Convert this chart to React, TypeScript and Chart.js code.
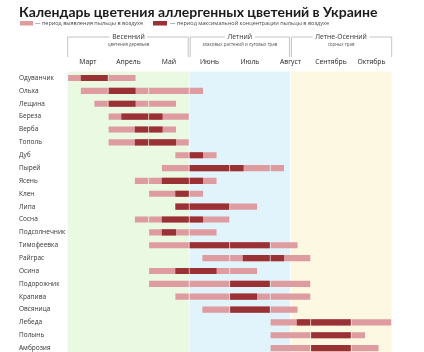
import React, { useEffect, useRef } from "react";
import { Chart, registerables } from "chart.js";

Chart.register(...registerables);

const titleText = "Календарь цветения аллергенных цветений в Украине";
const legendLight = "— период выявления пыльцы в воздухе";
const legendDark = "— период максимальной концентрации пыльцы в воздухе";

const months = ["Март", "Апрель", "Май", "Июнь", "Июль", "Август", "Сентябрь", "Октябрь"];

// seasons in decades (3 per month, March = 0)
const seasonNames = ["Весенний", "Летний", "Летне-Осенний"];
const seasonSubs = ["цветения деревьев", "злаковых растений и луговых трав", "сорных трав"];
const seasonStart = [0, 9, 16.5];
const seasonEnd = [9, 16.5, 24];
const seasonColors = ["#E9F9E2", "#E1F3FB", "#FCF8E1"];

const plants = [
  "Одуванчик", "Ольха", "Лещина", "Береза", "Верба", "Тополь", "Дуб", "Пырей",
  "Ясень", "Клен", "Липа", "Сосна", "Подсолнечник", "Тимофеевка", "Райграс",
  "Осина", "Подорожник", "Крапива", "Овсяница", "Лебеда", "Полынь", "Амброзия",
];
// detection period (decades from start of March)
const detectStart = [0, 1, 2, 3, 3, 3, 8, 7, 5, 6, 8, 5, 6, 6, 10, 6, 6, 8, 10, 15, 15, 15];
const detectEnd = [5, 10, 8, 9, 8, 9, 11, 16, 11, 10, 14, 12, 11, 17, 18, 14, 18, 18, 17, 24, 22, 23];
// peak concentration period
const peakStart = [1, 3, 3, 4, 5, 5, 9, 9, 7, 8, 8, 7, 7, 9, 13, 8, 12, 12, 12, 17, 18, 18];
const peakEnd = [3, 5, 5, 7, 7, 8, 10, 13, 10, 9, 12, 10, 8, 15, 16, 11, 15, 14, 15, 21, 21, 21];

const GAP = 0.055;

function splitByMonth(starts: number[], ends: number[]) {
  const out: { x: [number, number]; y: number }[] = [];
  starts.forEach((s, i) => {
    const e = ends[i];
    for (let m = Math.floor(s / 3); m * 3 < e; m++) {
      const a = Math.max(s, m * 3);
      const b = Math.min(e, m * 3 + 3);
      const a2 = a === m * 3 ? a + GAP : a;
      const b2 = b === m * 3 + 3 ? b - GAP : b;
      out.push({ x: [a2, b2], y: i });
    }
  });
  return out;
}

const decor = {
  id: "decor",
  beforeDatasetsDraw(chart: any) {
    const { ctx, chartArea, scales } = chart;
    const xs = scales.x;
    ctx.save();
    seasonStart.forEach((s, i) => {
      const x0 = xs.getPixelForValue(s) + (i > 0 ? 0.4 : 0);
      const x1 = xs.getPixelForValue(seasonEnd[i]) - (i < seasonStart.length - 1 ? 0.4 : 0);
      ctx.fillStyle = seasonColors[i];
      ctx.fillRect(x0, chartArea.top, x1 - x0, chartArea.bottom - chartArea.top);
    });
    ctx.restore();
  },
  afterDraw(chart: any) {
    const { ctx, scales } = chart;
    const xs = scales.x;
    const ys = scales.y;
    ctx.save();
    // title
    ctx.fillStyle = "#1b1b1b";
    ctx.textBaseline = "alphabetic";
    ctx.textAlign = "left";
    ctx.font = "bold 14px Lato, sans-serif";
    ctx.fillText(titleText, 19, 16.5, 359);
    // legend
    ctx.fillStyle = "#DE9BA0";
    ctx.fillRect(20, 21, 13, 4.5);
    ctx.fillStyle = "#9A3135";
    ctx.fillRect(153, 21, 14, 4.5);
    ctx.fillStyle = "#444";
    ctx.font = "5.8px 'Open Sans', sans-serif";
    ctx.textBaseline = "middle";
    ctx.fillText(legendLight, 35, 23.3, 108);
    ctx.fillText(legendDark, 170, 23.3, 159);
    // season brackets
    seasonNames.forEach((name, i) => {
      const x0 = xs.getPixelForValue(seasonStart[i]) + (i > 0 ? 1 : 0);
      const x1 = xs.getPixelForValue(seasonEnd[i]) - (i < seasonNames.length - 1 ? 1 : 0);
      const cx = (xs.getPixelForValue(seasonStart[i]) + xs.getPixelForValue(seasonEnd[i])) / 2;
      ctx.font = "6.8px 'Open Sans', sans-serif";
      const w = ctx.measureText(name).width;
      ctx.strokeStyle = "#b5b5b5";
      ctx.lineWidth = 0.8;
      const ly = 37;
      ctx.beginPath();
      ctx.moveTo(x0, 57);
      ctx.lineTo(x0, ly);
      ctx.lineTo(cx - w / 2 - 2.5, ly);
      ctx.moveTo(cx + w / 2 + 2.5, ly);
      ctx.lineTo(x1, ly);
      ctx.lineTo(x1, 57);
      ctx.stroke();
      ctx.fillStyle = "#333";
      ctx.textAlign = "center";
      ctx.textBaseline = "middle";
      ctx.fillText(name, cx, ly);
      ctx.font = "4.4px 'Open Sans', sans-serif";
      ctx.fillStyle = "#555";
      ctx.fillText(seasonSubs[i], cx, 44.5);
    });
    // month labels
    ctx.font = "6.8px 'Open Sans', sans-serif";
    ctx.fillStyle = "#222";
    ctx.textAlign = "center";
    months.forEach((m, i) => {
      ctx.fillText(m, xs.getPixelForValue(i * 3 + 1.5), 62);
    });
    // plant labels
    ctx.textAlign = "left";
    ctx.font = "6.5px 'Open Sans', sans-serif";
    ctx.fillStyle = "#333";
    plants.forEach((p, i) => {
      ctx.fillText(p, 19, ys.getPixelForValue(i));
    });
    ctx.restore();
  },
};

export default function App() {
  const ref = useRef<HTMLCanvasElement | null>(null);
  useEffect(() => {
    if (!ref.current) return;
    const chart = new Chart(ref.current, {
      type: "bar",
      data: {
        datasets: [
          {
            label: "peak",
            data: splitByMonth(peakStart, peakEnd) as any,
            backgroundColor: "#9A3135",
            barThickness: 5.5,
            grouped: false,
          } as any,
          {
            label: "detect",
            data: splitByMonth(detectStart, detectEnd) as any,
            backgroundColor: "#DE9BA0",
            barThickness: 5.5,
            grouped: false,
          } as any,
        ],
      },
      options: {
        indexAxis: "y",
        responsive: false,
        animation: false,
        layout: { padding: { left: 67.7, right: 32.3, top: 71.6, bottom: 0 } },
        scales: {
          x: { type: "linear", min: 0, max: 24, display: false, offset: false },
          y: { type: "linear", min: -0.5, max: 21.3, reverse: true, display: false, offset: false },
        },
        plugins: { legend: { display: false }, tooltip: { enabled: false } },
      },
      plugins: [decor],
    });
    return () => chart.destroy();
  }, []);
  return (
    <div style={{ position: "fixed", left: 0, top: 0, width: 424, height: 352, background: "#fff" }}>
      <canvas ref={ref} width={424} height={352} style={{ display: "block" }} />
    </div>
  );
}
